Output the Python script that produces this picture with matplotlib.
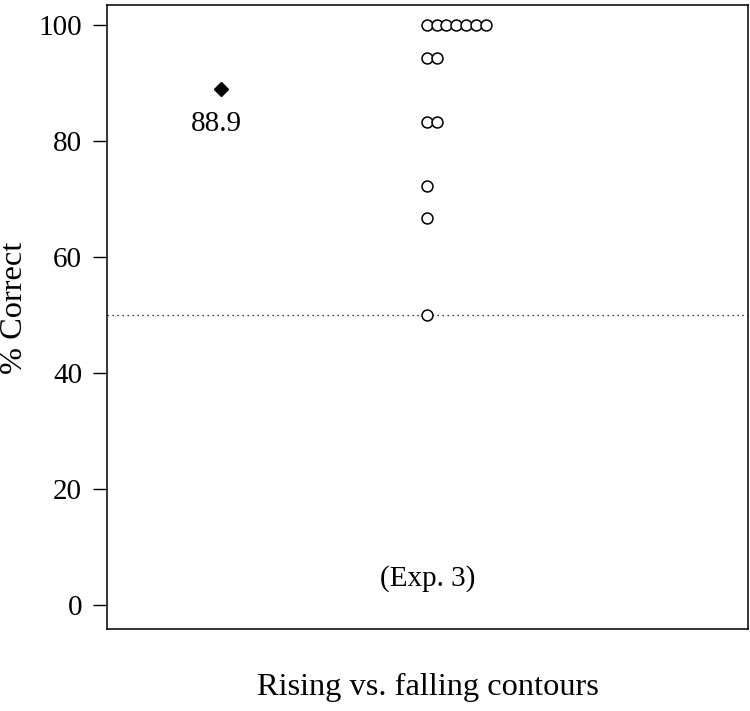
import matplotlib
matplotlib.use('Agg')
import matplotlib.pyplot as plt

# Dữ liệu
gia_tri_tb = 88.9
nhan_tb = '88.9'
gia_tri_ca_nhan = [100, 100, 100, 100, 100, 100, 100,
                   94.4, 94.4, 83.3, 83.3, 72.2, 66.7, 50]
cot_ca_nhan = [0, 1, 2, 3, 4, 5, 6, 0, 1, 0, 1, 0, 0, 0]
muc_ngau_nhien = 50
y_ticks = [0, 20, 40, 60, 80, 100]

plt.rcParams['font.family'] = ['Liberation Serif', 'DejaVu Serif']

fig = plt.figure(figsize=(7.5, 7.11), dpi=100)
ax = fig.add_axes([107 / 750, 82 / 711, 641 / 750, 624 / 711])

x_tb = 0.178
x_goc = 0.499
buoc = 0.0153
xs = [x_goc + c * buoc for c in cot_ca_nhan]

ax.axhline(muc_ngau_nhien, color='black', lw=0.9, ls=(0, (1, 3)))
ax.scatter(xs, gia_tri_ca_nhan, s=62, facecolors='white', edgecolors='black',
           linewidths=1.1, zorder=3)
ax.plot([x_tb], [gia_tri_tb], marker='D', ms=7, color='black', zorder=3)
ax.annotate(nhan_tb, (x_tb, gia_tri_tb), xytext=(-3.6, -25), textcoords='offset points',
            ha='center', va='center', fontsize=21)
ax.text(0.5, 4.6, '(Exp. 3)', ha='center', va='center', fontsize=21)

ax.set_xlim(0, 1)
ax.set_ylim(-4.1, 103.45)
ax.set_xticks([])
ax.set_yticks(y_ticks)
ax.tick_params(axis='y', labelsize=21, length=10, width=1, pad=8)
for sp in ax.spines.values():
    sp.set_linewidth(1.1)

ax.set_ylabel('% Correct', fontsize=23.3)
ax.set_xlabel('Rising vs. falling contours', fontsize=23.3)
ax.yaxis.set_label_coords(-0.122, 0.514)
ax.xaxis.set_label_coords(0.5, -0.070)

fig.savefig('out.png', dpi=100)
